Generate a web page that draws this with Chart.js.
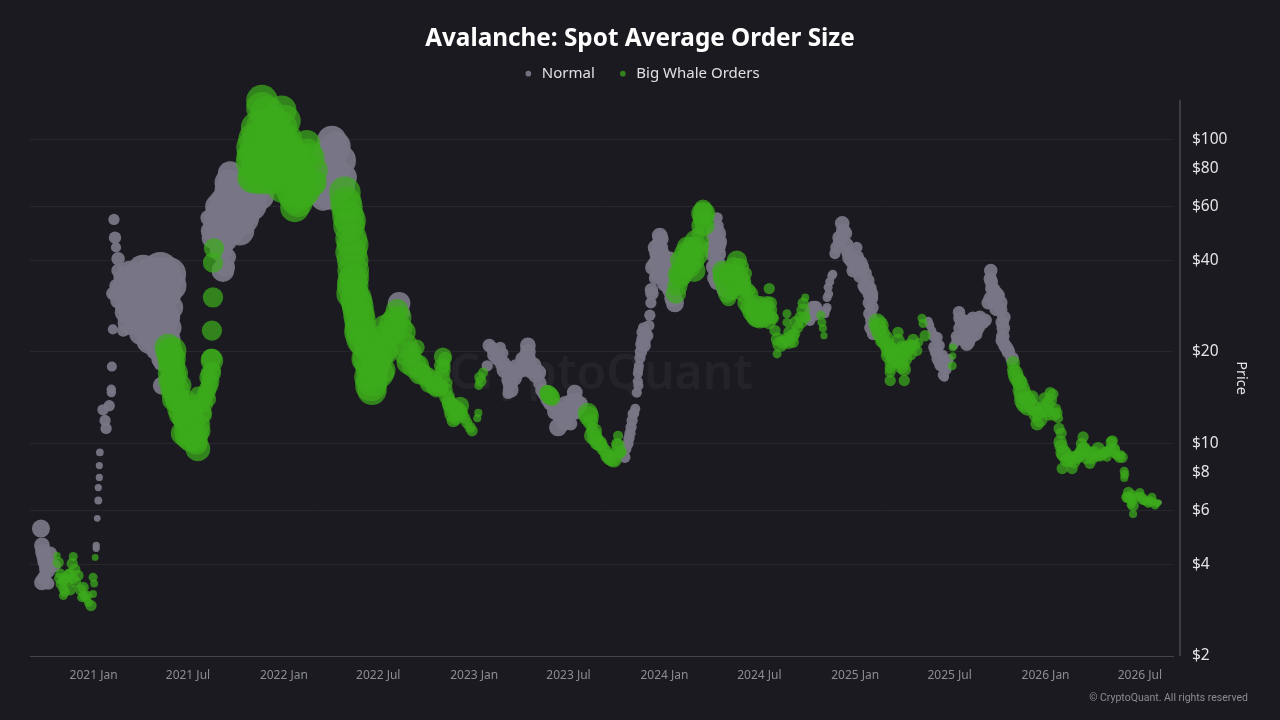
<!DOCTYPE html>
<html><head><meta charset="utf-8"><style>html,body{margin:0;background:#1a1a20}canvas{display:block}</style>
<script src="https://cdn.jsdelivr.net/npm/chart.js@4/dist/chart.umd.min.js"></script></head>
<body><canvas id="c" width="1280" height="720"></canvas><script>
// days since 2021-01-01
const tickDays=[0,181,365,546,730,911,1095,1277,1461,1642,1826,2007];
const tickLabels=['2021 Jan','2021 Jul','2022 Jan','2022 Jul','2023 Jan','2023 Jul','2024 Jan','2024 Jul','2025 Jan','2025 Jul','2026 Jan','2026 Jul'];
const priceTicks=[2,4,6,8,10,20,40,60,80,100];
const normalDays=[-101,-99,-95,-89,-83,-99,-87,-76,-91,5,5,7,9,9,11,11,12,24,22,18,30,34,34,35,37,39,41,43,47,47,37,51,128,95,76,57,137,57,70,89,108,108,89,128,118,137,108,128,131,60,47,137,248,256,229,229,262,258,243,285,300,268,306,256,243,220,237,457,434,473,479,459,448,429,586,592,759,780,774,755,785,799,795,799,818,833,833,837,853,856,881,901,891,908,923,933,920,866,1019,1025,1029,1033,1039,1042,1044,1044,1048,1052,1052,1058,1065,1067,1071,1063,1086,1083,1081,1073,1092,1106,1096,1115,1196,1196,1196,1182,1196,1196,1221,1416,1409,1407,1407,1403,1380,1374,1384,1436,1441,1426,1422,1464,1451,1470,1457,1480,1485,1487,1493,1489,1493,1601,1608,1618,1614,1620,1633,1630,1639,1662,1662,1656,1687,1710,1695,1675,1681,1720,1723,1735,1716,1733,1745,1743,1752,1762,2045,
-97,-93,-90,-85,-95,
60,70,80,90,100,110,120,135,145,150,140,120,100,80,70,60,100,115,125,140,145,130,140,120,90,50,43,40,147,145,143,148,
271,262,250,245,252,240,280,290,300,280,268,262,250,240,232,225,258,275,320,
445,450,460,468,470,440,452,478,465,440,
765,768,778,785,790,805,800,795,810,825,822,828,833,835,842,848,860,866,872,877,885,895,903,912,918,925,928,905,915,925,
1021,1027,1031,1035,1037,1045,1045,1046,1054,1056,1060,1055,1050,1070,1069,
1088,1087,1084,1078,1078,1082,1090,1095,1100,1104,1102,1108,1112,1088,1078,
1190,1198,1188,1192,1198,1200,1192,1190,1205,1210,
1418,1412,1410,1405,1376,1372,1385,1390,
1430,1438,1431,1445,1447,1455,1462,1465,1475,1470,1478,1483,1490,1488,1492,1491,1496,
1604,1612,1622,1617,1625,1630,1628,1635,1632,
1660,1665,1655,1650,1670,1675,1680,1685,1690,1695,1700,1705,1668,1672,1678,1685,
1721,1722,1727,1726,1730,1738,1720,1740,1746,1743,1744,1748,1755];
const normalPrices=[5.25,4.62,4.28,3.82,4.35,3.49,3.46,3.97,4.06,4.52,4.62,5.67,6.49,7.16,7.73,8.46,9.34,11.2,11.9,12.9,13.3,15.06,14.7,17.9,23.7,54.5,47.5,44.1,40.5,37,31.1,35.1,37,37,35.1,32.5,25.4,23.5,29.5,27.4,29.5,23.5,25.4,21.8,20.2,18.75,21.8,18.3,15.5,28.4,29.5,30.7,37,41,47.5,55.2,77.1,67.9,57.2,55.2,61,59.7,67.9,50.1,51.3,55.2,49,99.2,67.9,85.2,75,91.9,73.3,66.5,28.9,26.9,21,20.7,19,18,18.3,17,14.6,15.8,17.4,21,19,17.4,17.1,15.8,13.5,12.8,11.3,12.1,14.7,13.5,12.6,14.7,9,10,10.8,11.9,13,14.7,16,17,19.1,21.2,23.2,21.8,24.4,26.4,31.1,22.6,48.2,45.4,42.1,37.9,39.9,37,33.5,28.9,55.2,49,44.8,44.1,39.3,33.9,31.1,35.6,32.6,30.2,28,26.7,28,25.4,26.4,52.9,49,44.1,42.1,44.1,40.9,39.1,37,36.2,34.3,32.3,28,26.7,25.4,25.2,23.5,22.3,20.7,19,18.3,16.8,18.9,25.8,23.9,21.8,25.8,25.4,24.1,21.2,22.3,34.8,32.3,30.7,29,27.8,23.9,21.8,20.5,19,6.39,
4.4,4.1,3.95,4.0,3.6,
34,36,33,33,34,36,36,36,36,33,31,30,28,26,25,27,24,22,23,26,22,19,20,25,23,32,33,31,24,18,16.5,28,
55,50,47,43,38,43,50,58,68,67,70,68,62,60,52,50,72,62,65,
90,82,80,75,68,72,65,70,95,64,
20.5,19.5,19,19.8,17.5,16.5,15,16.2,17.8,17.6,19,18.5,20,18.5,18,16.8,15,14.5,14,13.6,12.7,12.5,11.8,12.8,13.8,13.8,13,13.5,11.6,12.5,
9.6,10.4,11.3,12.5,12.6,15.5,17.5,18,22,21,23,24,20,32,29,
47,44,41,39,44,36,42,37,36,40,33,32,30,36,35,
50,52,42,38,42,46,35,48,34,32,
36,34,31,27.5,27,26,28,27,
47.5,50,46,45,42.5,40,38,41,38,35.5,33,32.5,31,29,30,24,23,
24.5,22.5,21,20,18.2,18,19.5,17.5,16.5,
27,25,22.5,21,25,24,25,25,23,25.5,26,25,22,23,21.5,22.5,
37,34,32,29.5,31,29,30,27.5,26,25,22.5,21,20];
const normalSizes=[8,7,7,7,6,7,5.5,6,7,3.2,3.2,3,3.5,3.2,3.2,3.2,3.4,5,5,5,5,4.2,4.2,4.5,4.5,5,5.5,4.5,6,6,6,6,16.5,14,12,10,12,5.5,13,13,13,12,12,12,8,8,12,6,8,9,7,12,10,8,10,8,11,12,13,15,15,14,14,13,10,7,10,13,11,14,12,14,14,10,10,7,6,5,6,5,7,8,5,7,7,7,7,7,7,6,7,8,8,7,7,7,6,7,5,5,5,5,4.5,4.5,4.5,4.5,5,6,5,5,5,5,6,5,7,6,7,7,7,8,7,8,5,8,8,6,7,7,6,4,4,4,4,4,6,5,5,6.5,6.5,6,5,5,7,7,6,6,6,7,6,6,6,4,4,5,6,6,6,5,5,6,6,5,6,6,7,6,6,6,6,6,6,7,6,6,6,6,2,
7,7,7,6,6.5,
10,12,13,14,14,15,15,15,15,13,13,13,13,12,11,9,12,12,12,12,10,9,10,12,10,8,6,5,10,8,7,11,
14,13,12,10,9,8,13,14,14,14,13,12,13,12,10,9,12,15,12,
12,13,13,12,11,12,12,11,13,11,
6,6,6,5,8,8,7,6,7,7,6,7,7,7,8,7,6,6,7,7,7,8,8,7,7,7,7,7,6,5,
5,5,5,5,4.5,4.5,4.5,4.5,6,6,5,5,5.5,6,5,
7,7,7,7,7,7,7,8,8,8,7,8,8,8,6,
7,5,7,8,7,7,7,7,8,7,
4,4,4,4,6,5,6,5,
6,6.5,6,6,6,7,7,6,6,6,6,7,7,6,6,6,6,
4,5,5,6,6,6,5,5,4,
5.5,6,5,4,7,7,7,7,7,6,6,6,6,6,6,6,
6,6,6,7,7,7,6,6,6,6,6,6,6];
const whaleDays=[-70,-68,-64,-58,-58,-58,-39,-41,-45,-30,-51,-20,-22,-11,-5,-1,1,-1,3,143,151,152,147,152,162,172,172,185,200,199,204,208,218,220,227,227,179,179,189,191,156,166,227,229,229,231,323,323,361,367,315,306,306,314,344,352,344,333,383,409,415,421,421,386,386,390,390,371,482,486,492,494,494,498,496,496,507,511,511,530,530,534,534,553,559,559,582,582,594,601,620,626,651,659,670,668,678,678,674,670,668,688,703,690,716,726,738,736,747,743,739,870,876,948,956,958,966,977,995,985,1006,1006,1010,1169,1169,1160,1158,1150,1131,1125,1117,1138,1206,1207,1234,1231,1236,1225,1250,1255,1265,1278,1269,1294,1296,1298,1304,1307,1317,1311,1330,1330,1336,1342,1351,1361,1365,1361,1367,1395,1399,1401,1503,1508,1514,1528,1528,1528,1543,1543,1553,1555,1572,1579,1566,1589,1591,1595,1537,1557,1648,1648,1647,1764,1768,1777,1783,1791,1800,1810,1812,1835,1835,1829,1850,1852,1854,1860,1858,1877,1873,1898,1898,1911,1911,1927,1931,1954,1956,1944,1973,1963,1977,1977,1984,1982,1992,1994,1994,2007,2013,2023,2030,2036,2042,1889,1940,
-65,-62,-55,-48,-40,-35,-25,-15,-10,-18,-45,-55,-36,
145,148,150,148,155,158,152,160,155,165,168,170,175,178,180,182,186,190,195,197,202,205,208,212,215,220,222,224,226,225,183,195,200,
310,312,318,325,330,340,350,360,362,365,370,375,320,330,340,355,365,378,320,335,350,365,385,395,400,405,410,418,380,392,398,310,345,372,300,305,
484,488,490,497,497,497,500,503,505,509,512,515,520,525,528,528,532,537,540,545,548,550,555,557,565,570,575,578,588,590,598,605,610,615,622,630,640,645,655,664,672,669,676,
680,684,695,695,698,708,722,712,741,690,700,683,
873,880,950,953,960,962,970,973,982,990,998,1002,1004,1012,
1120,1123,1128,1134,1135,1142,1145,1148,1155,1157,1125,1140,1152,1168,1171,1166,1172,
1208,1212,1215,1218,1220,1225,1228,1230,1238,1240,1242,1245,1248,1252,1258,1262,1270,1260,1272,1285,1290,1285,1280,1292,1296,1300,
1312,1322,1330,1333,1340,1345,1348,1355,1358,1364,1397,
1505,1510,1518,1522,1525,1532,1538,1545,1548,1552,1560,1565,1570,1575,1583,1530,1528,1555,1550,
1765,1770,1775,1780,1782,1786,1790,1795,1802,1805,1808,1815,1820,1825,1830,1832,1840,1845,1842,1848,1856,1856,
1862,1866,1870,1880,1885,1892,1895,1900,1905,1915,1920,1925,1935,1945,1950,1952,1958,1960,1968,1970,
1978,1985,1988,1990,1992,2000,2003,2010,2015,2018,2026,2028,2033,2039];
const whalePrices=[4.28,4.06,3.73,3.54,3.33,3.16,4.25,4.03,3.73,3.68,3.54,3.36,3.12,3.16,2.93,3.63,3.46,3.2,4.22,20.7,19,20.2,17,14.95,13.85,12.2,10.8,10.23,9.6,10.8,12.6,13.85,14.95,16.5,18.75,17.4,13.85,11.9,11.5,12.84,16.8,15.5,23.5,30.2,39.3,43.8,134,127,124.6,115,109,94,74.8,81,79,94,112,122,89.5,96.9,87,79,72,59.7,64.2,72,79,85.2,66.9,59.7,54.1,47.2,42.5,37,34.3,31.1,28,25.4,23.2,20.7,17.8,14.95,16.1,17.4,20.7,24.1,27.4,24.1,23.2,19.7,20.7,17,16.1,15.3,19.3,18,15.8,14.2,19,17.4,15.3,13,13.3,11.9,11.7,11,12.6,12.1,17.1,16,15.5,14.7,14.3,12.6,11.3,10.6,10.1,9.6,8.9,9.1,10.6,9.85,9.3,59.2,54.5,49,43.8,39.9,37.9,34.9,31.1,40.9,37,34.9,39.9,32.6,35.1,31.1,36.2,31.8,28,25.8,26.4,27.4,32.3,28.9,25.8,23.5,21.2,19.7,26.7,25,23.2,21.5,24.1,27.4,30.2,28.9,25.8,26.4,23.9,22.6,25,24.4,21.8,20.2,17.7,16.1,21.8,23.2,19,16.1,22,20.2,19.7,25.8,24.8,22.6,19.4,20.2,20.7,19.4,18,18.4,17,15.8,13.85,13.1,14.2,11.6,12.6,14.7,13.85,12.84,12.1,11.2,10.1,9.34,8.27,8.27,9,10.5,9.48,8.6,9.3,9.6,9.1,10.2,9.48,9,9,9.1,8.1,7.7,6.65,6.65,6.75,6.25,5.86,6.9,6.55,6.35,6.65,6.25,6.39,9.1,9.34,
3.6,3.45,3.6,3.7,3.6,3.5,3.3,3.1,3.0,3.15,3.3,3.25,3.85,
20,19,18,16,17,15,16,14,14,13,12.5,13.5,12,11,10.5,11.5,12,10.5,10.3,10,11.5,11,12.5,13.5,14.5,14,15.5,16,19,17,13,13,14.5,
100,90,100,110,100,100,105,110,100,95,100,90,85,85,88,85,80,78,75,75,75,70,78,85,75,68,90,72,68,62,66,76,80,78,88,84,
62,56,52,45,40,33,35,30,29,26.5,24,22,21.5,19,19,16.5,15.5,17,18,19,17,20,22,20,23,25,23,26,26,24,21,18.5,20,18,18,17,16.5,15.8,15.5,15.3,18,16.5,15,
14,13.5,13,12.2,12.6,12.5,11.3,12.1,16.5,12.5,12.7,13.5,
14.5,14.1,12.3,11.8,11,10.4,10,9.9,9.4,9,8.85,9.4,10,9.4,
33,36,36,38,42,38,42,44,42,46,40,44,37,57,57,52,52,
36,33,31,30,36,36,38,35,33,38,34,33,31,29,28,27,29,31,26,26,27,28,29,29,25,26,
22,21.5,22,21.5,22.5,23,25,26,25,26,25,
24,23,22,21,19.5,20,19,19.5,18.5,20.5,20.5,21,21,21,21.5,18.5,17.2,17.5,18,
17.5,16.5,16,15,14.5,13.5,14,14,13.2,13,12.5,12,13,14,13.5,12.5,14.5,13,12.5,12.6,10.8,9.8,
9.2,8.8,8.8,8.7,9,9.2,10,9.6,9,9,9.3,9.1,9.2,9.4,9.6,10.1,9.6,9.2,9,9.2,
7.9,6.9,6.6,6.3,6.4,6.6,6.7,6.7,6.5,6.45,6.5,6.4,6.45,6.35];
const whaleSizes=[3.2,5,4.5,5,4.5,4,4,5,5,5,5,5,4.5,4,5,4,3.5,3.5,3,12,12,12,11,11,11,10,11,10,11,10,10,8,8,8,10,8,9,10,10,8,10,10,9,9,9,9,14,14,13,14,15,15,14,15,15,16,16,15,14,12,13,13,12,13,14,15,15,15,14,14,14,14,14,14,13,14,14,14,14,14,13,13,14,12,12,11,10,10,11,11,7,10,9,9,8,7,5,7,6,7,6,8,8,6,5,5,3.6,3.6,4.5,5,4,7,8,9,5,8,7,6,7,6,4.5,6,5,8,9,6,10,10,10,9,9,9,9,9,9,8,10,6,6,7,8,9,9,8,5,6,5,5,7,4,4,4,6,5,5,6,3.6,5,4,4,3.6,3.2,8,8,7,8,5,5,6,5,8,5,5,5,6,4,4,5,7,7,3.6,3.2,4,6,7,7,8,7,6,6,6,5,6,6,4.5,5,6,7,5,5,6,5,7,5,6,6,5,5,6,4,5,4,4,3.6,5,5,5,5,3.6,4,5,4,4,3.5,3,6,5,
5,5,5,5,5,5,5,4,4,4.5,5,4.5,5,
12,12,12,11,12,12,11,11,11,11,11,11,11,11,11,11,11,11,11,10,10,9,9,8,8,7,8,8,9,9,9,8,7,
15,15,15,15,15,16,15,14,15,15,14,15,15,15,16,15,15,15,15,15,15,15,15,14,14,14,13,12,14,13,14,15,16,15,12,15,
14,14,14,14,14,14,13,14,14,14,14,14,14,14,14,13,14,13,13,13,13,13,12,12,12,10,11,10,10,10,11,11,9,11,10,9,9,9,9,8,6,7,6,
6,7,8,7,7,5,5,5,5,8,8,7,
8,7,9,7,7,7,7,6,6,7,7,5,5,5,
9,10,10,10,10,10,10,10,11,11,9,10,10,10,10,9,9,
9,9,8,7,9,9,9,9,9,8,9,8,8,8,8,8,7,7,9,9,8,8,6,6,6,6,
6,6,6,6,6,5,6,5,5,5,4,
8,8,8,7,7,8,8,7,7,7,7,6,5,5,4,6,5,6,7,
6,7,7,8,8,8,7,6,7,7,7,7,6,6,6,6,5,5,6,5,5,6,
7,6,6,6,6,6,5,6,6,6,6,5,5,5,5,5,5,4,5,4,
4,5,5,4,4,4,4,4,4,4,4,4,3.5,3.5];
const sizeScale=1.13;
const toPoints=(d,p,s)=>d.map((x,i)=>({x,y:p[i],r:s[i]*sizeScale}));
const chrome={
 id:'chrome',
 afterLayout(c){
  c.titleBlock.left-=15;c.titleBlock.right-=15;c.legend.left-=14;c.legend.right-=14;
  c.titleBlock.top-=10;c.titleBlock.bottom-=10;c.legend.top-=9;c.legend.bottom-=9;
 },
 beforeDatasetsDraw(c){const g=c.ctx;g.save();g.font='600 48px "Noto Sans"';g.fillStyle='rgba(255,255,255,0.045)';g.textAlign='center';g.textBaseline='middle';g.fillText('CryptoQuant',601,375);g.restore();},
 afterDraw(c){const g=c.ctx,a=c.chartArea;g.save();g.strokeStyle='#4a4a54';g.lineWidth=1.5;g.beginPath();g.moveTo(a.right+7,a.top);g.lineTo(a.right+7,a.bottom);g.stroke();
  g.font='10.5px Roboto';g.fillStyle='#8b8b93';g.textAlign='right';g.textBaseline='middle';g.fillText('© CryptoQuant. All rights reserved',1248,698);g.restore();}
};
new Chart(document.getElementById('c'),{type:'bubble',plugins:[chrome],
 data:{datasets:[
  {label:'Normal',order:2,data:toPoints(normalDays,normalPrices,normalSizes),backgroundColor:'rgba(120,118,134,0.95)',borderWidth:0,clip:false},
  {label:'Big Whale Orders',order:1,data:toPoints(whaleDays,whalePrices,whaleSizes),backgroundColor:'rgba(60,170,28,0.72)',borderWidth:0,clip:false}
 ]},
 options:{responsive:false,animation:false,layout:{padding:{left:30,top:13,right:0,bottom:0}},
  plugins:{tooltip:{enabled:false},
   title:{display:true,text:'Avalanche: Spot Average Order Size',color:'#ffffff',font:{family:'"Noto Sans"',size:24.3,weight:'700'},padding:{top:21,bottom:-10}},
   legend:{labels:{color:'#e0e0e4',font:{family:'"Noto Sans"',size:15},usePointStyle:true,boxWidth:12,boxHeight:4,padding:22,sort:(a,b)=>a.datasetIndex-b.datasetIndex}}},
  scales:{
   x:{type:'linear',min:-122,max:2070.5,afterFit(s){s.height=64},afterBuildTicks(s){s.ticks=tickDays.map(v=>({value:v}))},
    grid:{display:false,drawTicks:true,tickColor:'#44444c',tickLength:6},
    border:{color:'#44444c'},
    ticks:{color:'#8d8d95',font:{family:'"Noto Sans"',size:12},maxRotation:0,autoSkip:false,padding:6,callback:v=>tickLabels[tickDays.indexOf(v)]}},
   y:{type:'logarithmic',position:'right',min:2,max:134.5,afterFit(s){s.width=107},afterBuildTicks(s){s.ticks=priceTicks.map(v=>({value:v}))},
    border:{display:false},
    grid:{drawTicks:false,color:c=>[2,8,80].includes(c.tick&&c.tick.value)?'rgba(0,0,0,0)':'#27272d',lineWidth:1},
    ticks:{color:'#e4e4e8',font:{family:'"Noto Sans"',size:15.5},autoSkip:false,padding:19,callback:v=>'$'+v},
    title:{display:true,text:'Price',color:'#e4e4e8',font:{family:'"Noto Sans"',size:14.5},padding:{top:30,bottom:0}}}
  }}
});
</script></body></html>
